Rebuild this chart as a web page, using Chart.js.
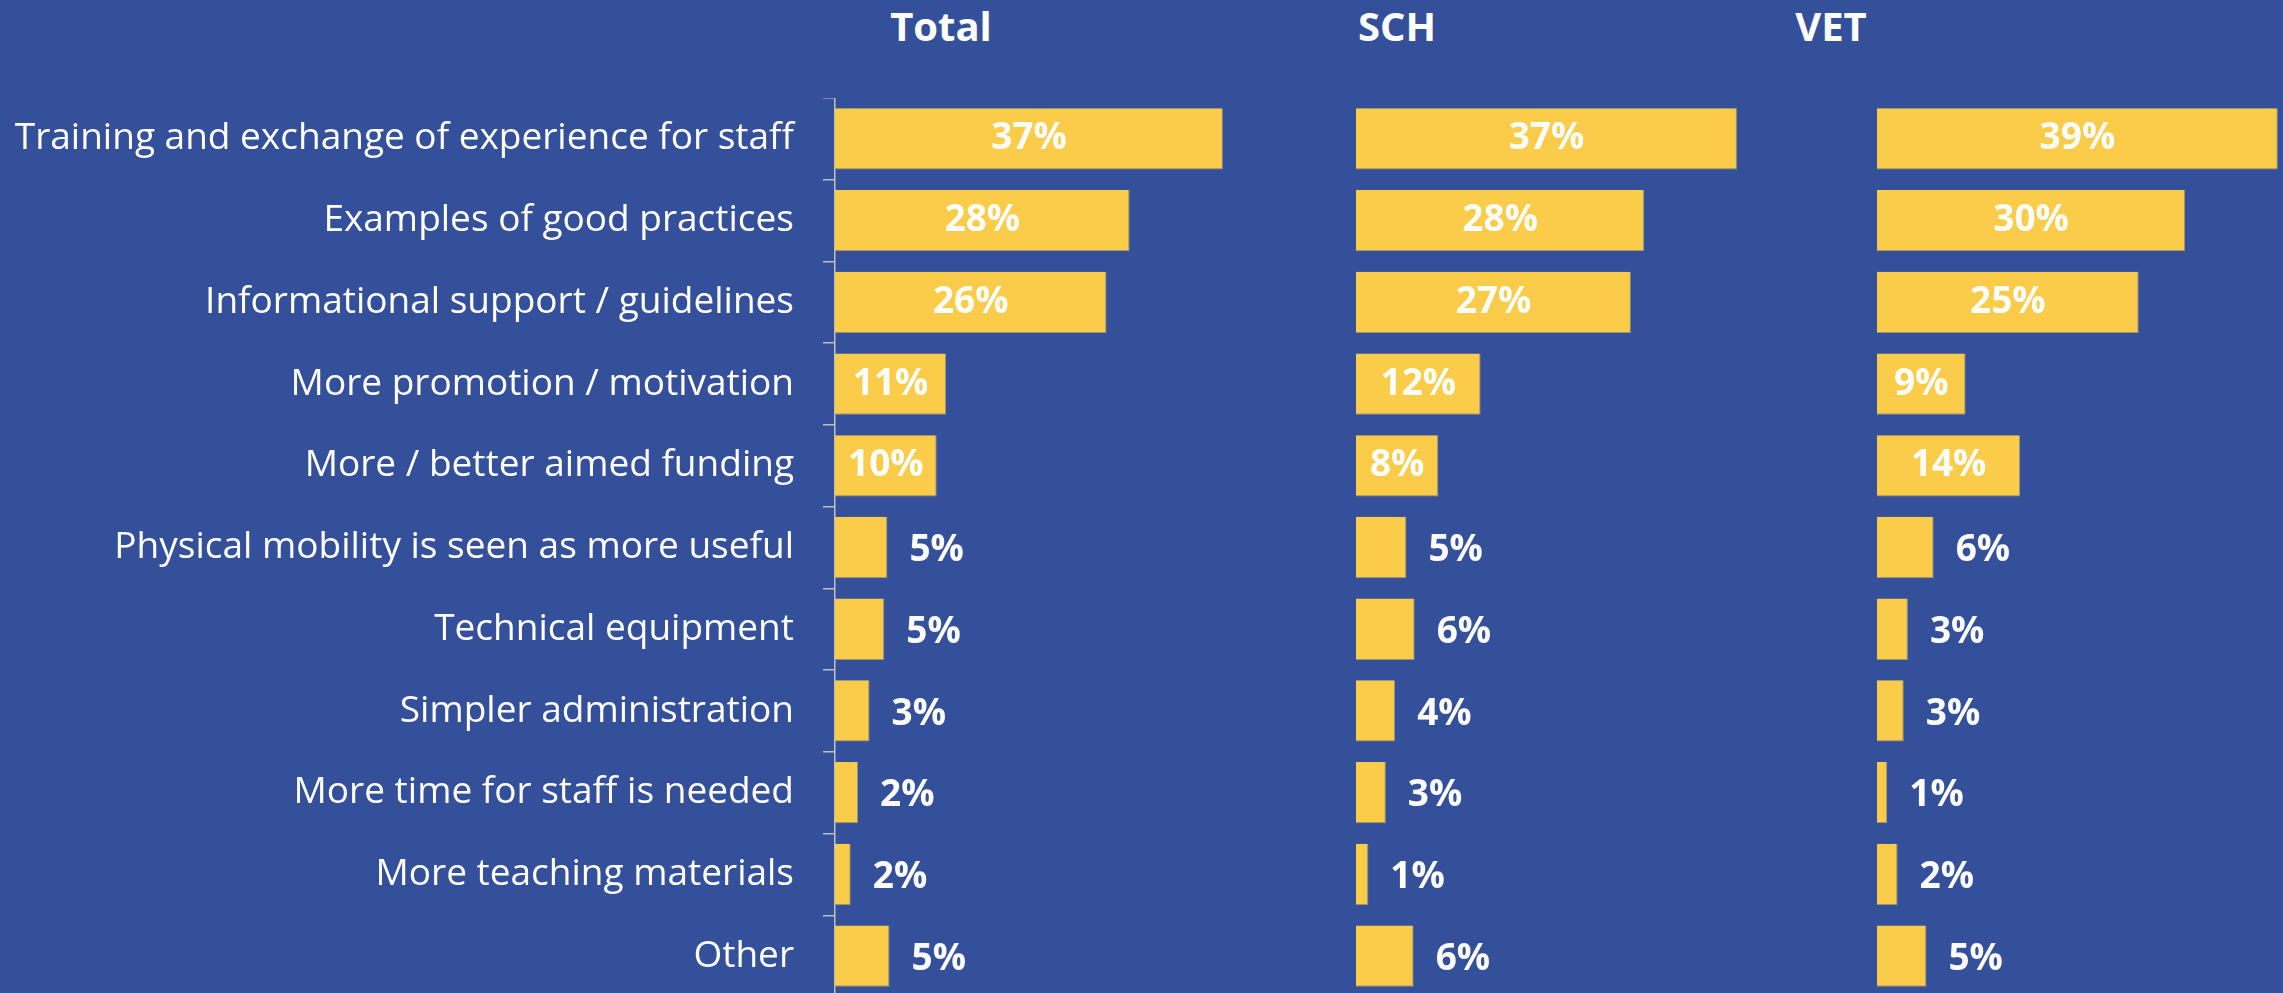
<!DOCTYPE html>
<html>
<head>
<meta charset="utf-8">
<script src="https://cdn.jsdelivr.net/npm/chart.js@4.4.1/dist/chart.umd.min.js"></script>
<style>
  html, body { margin: 0; padding: 0; overflow: hidden; background: #35509A; }
  #wrap { position: relative; width: 2283px; height: 993px; overflow: hidden; background: #35509A; }
  .panel { position: absolute; top: 98px; height: 899px; }
  .title {
    position: absolute; top: 0; height: 52px; line-height: 52px;
    transform: translateX(-50%);
    color: #FFFFFF; font-family: "Open Sans", sans-serif; font-weight: bold; font-size: 40px;
    white-space: nowrap;
  }
</style>
</head>
<body>
<div id="wrap">
  <div class="title" style="left: 941px;">Total</div>
  <div class="title" style="left: 1397px;">SCH</div>
  <div class="title" style="left: 1831px;">VET</div>
  <div class="panel" style="left: 0; width: 1355px;"><canvas id="chartTotal" width="1355" height="899"></canvas></div>
  <div class="panel" style="left: 1356px; width: 521px;"><canvas id="chartSch" width="521" height="899"></canvas></div>
  <div class="panel" style="left: 1877px; width: 406px;"><canvas id="chartVet" width="406" height="899"></canvas></div>
</div>
<script>
// categories, top to bottom
const categories = [
  'Training and exchange of experience for staff',
  'Examples of good practices',
  'Informational support / guidelines',
  'More promotion / motivation',
  'More / better aimed funding',
  'Physical mobility is seen as more useful',
  'Technical equipment',
  'Simpler administration',
  'More time for staff is needed',
  'More teaching materials',
  'Other'
];

// share of respondents (%)
const totalValues = [37.0, 28.1, 25.9, 10.6, 9.7, 5.0, 4.7, 3.3, 2.2, 1.5, 5.2];
const schValues = [37.0, 28.0, 26.7, 12.1, 8.0, 4.9, 5.7, 3.8, 2.9, 1.2, 5.6];
const vetValues = [38.9, 29.9, 25.4, 8.6, 13.9, 5.5, 3.0, 2.6, 1.0, 2.0, 4.8];

const BAR_COLOR = '#FACC4A';
const AXIS_COLOR = '#BFBFBF';
const FONT = '"Open Sans", sans-serif';

// value labels: centred inside big bars, just right of small ones
const valueLabels = {
  id: 'valueLabels',
  afterDatasetsDraw(chart) {
    const ctx = chart.ctx;
    const meta = chart.getDatasetMeta(0);
    const data = chart.data.datasets[0].data;
    ctx.save();
    ctx.fillStyle = '#FFFFFF';
    ctx.font = 'bold 37px ' + FONT;
    ctx.textBaseline = 'middle';
    meta.data.forEach((bar, i) => {
      const v = data[i];
      const text = Math.round(v) + '%';
      if (v >= 7) {
        ctx.textAlign = 'center';
        ctx.fillText(text, (bar.base + bar.x) / 2, bar.y);
      } else {
        ctx.textAlign = 'left';
        ctx.fillText(text, bar.x + 22, bar.y + 3);
      }
    });
    ctx.restore();
  }
};

function makeChart(id, values, max, showAxis) {
  const ctx = document.getElementById(id).getContext('2d');
  return new Chart(ctx, {
    type: 'bar',
    data: {
      labels: categories,
      datasets: [{
        data: values,
        backgroundColor: BAR_COLOR,
        borderColor: '#9A9272',
        borderWidth: { top: 0, left: 0, right: 1, bottom: 1 },
        borderSkipped: false,
        barPercentage: 0.75,
        categoryPercentage: 1
      }]
    },
    options: {
      indexAxis: 'y',
      responsive: false,
      animation: false,
      events: [],
      layout: { padding: 0 },
      plugins: {
        legend: { display: false },
        tooltip: { enabled: false }
      },
      scales: {
        x: {
          display: false,
          min: 0,
          max: max
        },
        y: {
          display: showAxis,
          offset: true,
          grid: {
            offset: true,
            drawOnChartArea: false,
            drawTicks: true,
            tickLength: 12,
            color: AXIS_COLOR,
            lineWidth: 1.5
          },
          border: { display: true, color: AXIS_COLOR, width: 1.5 },
          ticks: {
            color: '#FFFFFF',
            padding: 29,
            autoSkip: false,
            font: { family: FONT, size: 37 }
          },
          afterFit(scale) {
            if (showAxis) {
              scale.width = 835;
            }
            scale.paddingTop = 0;
            scale.paddingBottom = 0;
          }
        }
      }
    },
    plugins: [valueLabels]
  });
}

makeChart('chartTotal', totalValues, 49.6, true);
makeChart('chartSch', schValues, 50.6, false);
makeChart('chartVet', vetValues, 39.4, false);
</script>
</body>
</html>
